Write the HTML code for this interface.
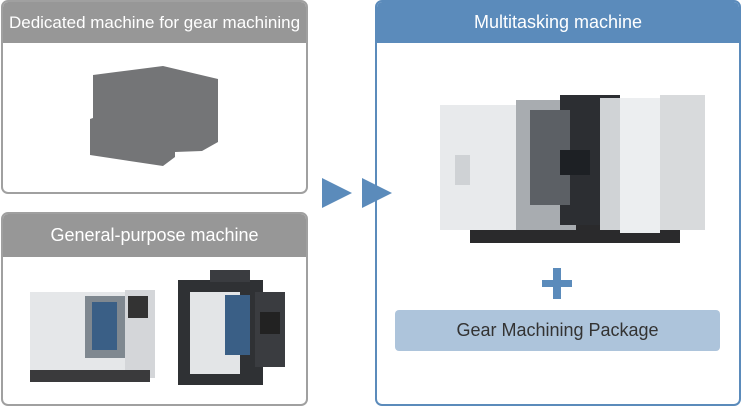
<!DOCTYPE html>
<html><head><style>
body{margin:0;width:741px;height:406px;background:#fff;position:relative;overflow:hidden;font-family:"Liberation Sans",sans-serif}
.box{position:absolute;border:2px solid #a0a0a0;border-radius:7px;box-sizing:border-box;overflow:hidden}
.hd{position:absolute;left:0;right:0;top:0;height:41px;background:#979797;color:#fff;font-size:18px;text-align:center;line-height:41px}
.abs{position:absolute}
</style></head><body>
<div class="box" style="left:1px;top:0;width:307px;height:194px"><div class="hd" style="font-size:17px">Dedicated machine for gear machining</div></div>
<svg class="abs" style="left:0;top:0" width="741" height="406">
<polygon points="93,75 116,72 163,66 218,79 218,142 202,151 175,152 175,157 163,166 90,155 90,119 93,118" fill="#747577"/>
</svg>
<div class="box" style="left:1px;top:212px;width:307px;height:194px"><div class="hd" style="height:43px;line-height:43px">General-purpose machine</div></div>
<div class="box" style="left:375px;top:0;width:366px;height:406px;border-color:#5b8bbb"><div class="hd" style="background:#5b8bbb">Multitasking machine</div></div>
<svg class="abs" style="left:0;top:0" width="741" height="406">
<polygon points="322,178 352,193 322,208" fill="#5b8bbb"/>
<polygon points="362,178 392,193 362,208" fill="#5b8bbb"/>
<rect x="542" y="280" width="30" height="7" fill="#5b8bbb"/>
<rect x="553" y="268" width="8" height="31" fill="#5b8bbb"/>
<rect x="470" y="215" width="210" height="28" fill="#2a2a2c"/>
<rect x="440" y="105" width="80" height="125" fill="#e8eaec"/>
<rect x="516" y="100" width="60" height="130" fill="#a8acb0"/>
<rect x="560" y="95" width="60" height="130" fill="#2c2e32"/>
<rect x="600" y="98" width="60" height="132" fill="#d0d3d6"/>
<rect x="620" y="98" width="40" height="135" fill="#eceef0"/>
<rect x="660" y="95" width="45" height="135" fill="#d8dadc"/>
<rect x="530" y="110" width="40" height="95" fill="#5c6065"/>
<rect x="560" y="150" width="30" height="25" fill="#1d2024"/>
<rect x="455" y="155" width="15" height="30" fill="#cfd2d5"/>
<rect x="30" y="292" width="95" height="80" fill="#e5e7e9"/>
<rect x="85" y="296" width="40" height="62" fill="#7f8890"/>
<rect x="92" y="302" width="25" height="48" fill="#3a5f86"/>
<rect x="125" y="290" width="30" height="88" fill="#d4d6d9"/>
<rect x="128" y="296" width="20" height="22" fill="#333"/>
<rect x="30" y="370" width="120" height="12" fill="#3a3a3c"/>
<rect x="178" y="280" width="85" height="105" fill="#2f3134"/>
<rect x="190" y="292" width="50" height="82" fill="#e3e5e7"/>
<rect x="225" y="295" width="25" height="60" fill="#3a5f86"/>
<rect x="255" y="292" width="30" height="75" fill="#3a3c40"/>
<rect x="260" y="312" width="20" height="22" fill="#222"/>
<rect x="210" y="270" width="40" height="12" fill="#3a3c40"/>
</svg>
<div class="abs" style="left:395px;top:310px;width:325px;height:41px;background:#adc4db;border-radius:4px;color:#333;font-size:18px;text-align:center;line-height:41px">Gear Machining Package</div>
</body></html>
